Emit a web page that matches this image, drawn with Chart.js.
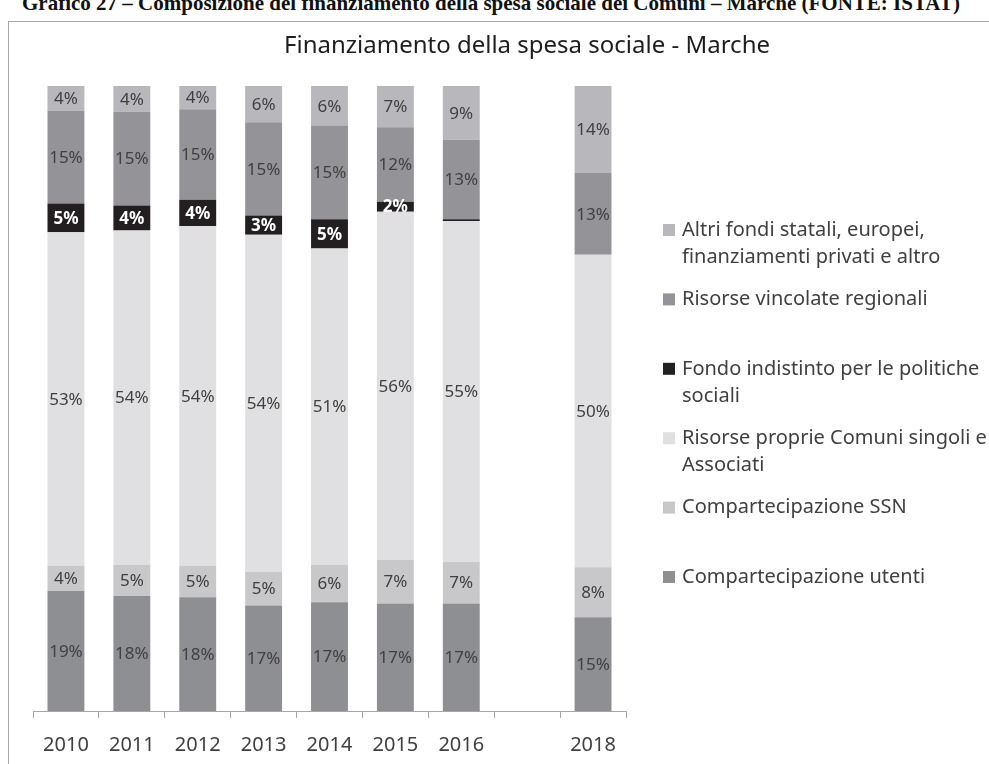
<!DOCTYPE html>
<html>
<head>
<meta charset="utf-8">
<script src="https://cdn.jsdelivr.net/npm/chart.js@4.4.1/dist/chart.umd.min.js"></script>
<style>
  html, body { margin: 0; padding: 0; background: #fff; }
  #wrap { position: relative; width: 989px; height: 764px; overflow: hidden; }
  #caption {
    position: absolute; left: 22px; top: -9px; white-space: nowrap;
    font: bold 21px "Liberation Serif", serif; color: #111;
  }
  #frame {
    position: absolute; left: 8px; top: 21px; width: 1000px; height: 800px;
    border: 1px solid #a8a8a8; box-sizing: border-box;
  }
  #chartFinanz { position: absolute; left: 0; top: 0; }
</style>
</head>
<body>
<div id="wrap">
  <div id="caption">Grafico 27 – Composizione del finanziamento della spesa sociale dei Comuni – Marche (FONTE: ISTAT)</div>
  <div id="frame"></div>
  <canvas id="chartFinanz" width="989" height="772"></canvas>
</div>
<script>
// anni (il 2017 manca, colonna vuota)
const anni = ['2010', '2011', '2012', '2013', '2014', '2015', '2016', '', '2018'];

// quote in %
const utenti = [19.2, 18.4, 18.2, 16.9, 17.4, 17.2, 17.2, null, 15.0];
const ssn = [4.0, 5.0, 5.0, 5.4, 6.0, 7.0, 6.7, null, 8.0];
const risorseProprie = [53.4, 53.5, 54.4, 53.9, 50.6, 55.7, 54.5, null, 50.0];
const fondoIndistinto = [4.6, 4.0, 4.2, 3.1, 4.7, 1.6, 0.3, null, 0];
const vincolateRegionali = [14.8, 15.0, 14.5, 14.9, 15.0, 11.9, 12.7, null, 13.1];
const altriFondi = [4.0, 4.1, 3.7, 5.8, 6.3, 6.6, 8.6, null, 13.9];

const testo = '#404040';

// etichette % al centro di ogni segmento
const etichette = {
  id: 'etichette',
  afterDatasetsDraw(chart) {
    const ctx = chart.ctx;
    ctx.save();
    ctx.textAlign = 'center';
    ctx.textBaseline = 'middle';
    chart.data.datasets.forEach((ds, i) => {
      const meta = chart.getDatasetMeta(i);
      meta.data.forEach((bar, j) => {
        const v = ds.data[j];
        if (v == null || v < 1) return;
        const y = (bar.y + bar.base) / 2;
        if (ds.scuro) {
          ctx.font = 'bold 17px "Noto Sans"';
          ctx.fillStyle = '#ffffff';
        } else {
          ctx.font = '17px "Noto Sans"';
          ctx.fillStyle = testo;
        }
        ctx.fillText(Math.round(v) + '%', bar.x, y + 1);
      });
    });
    ctx.restore();
  }
};

// titolo e legenda a destra, come in Excel
const legenda = {
  id: 'legenda',
  afterDraw(chart) {
    const ctx = chart.ctx;
    ctx.save();
    ctx.textBaseline = 'middle';
    ctx.textAlign = 'center';
    ctx.fillStyle = '#1e1e1e';
    ctx.font = '24px "Noto Sans"';
    ctx.fillText('Finanziamento della spesa sociale - Marche', 527, 46);

    ctx.textAlign = 'left';
    ctx.font = '20px "Noto Sans"';
    const sets = chart.data.datasets.slice().reverse();
    sets.forEach((ds, i) => {
      const y = 230 + i * 69.4;
      ctx.fillStyle = ds.backgroundColor;
      ctx.fillRect(663, y - 6, 12, 12);
      ctx.fillStyle = testo;
      ds.label.split('\n').forEach((riga, k) => {
        ctx.fillText(riga, 682, y + k * 27);
      });
    });
    ctx.restore();
  }
};

const chart1 = document.getElementById('chartFinanz').getContext('2d');
const chartFinanz = new Chart(chart1, {
  type: 'bar',
  data: {
    labels: anni,
    datasets: [
      { label: 'Compartecipazione utenti', data: utenti, backgroundColor: '#8e8f92' },
      { label: 'Compartecipazione SSN', data: ssn, backgroundColor: '#c8c8ca' },
      { label: 'Risorse proprie Comuni singoli e\nAssociati', data: risorseProprie, backgroundColor: '#e0e0e2' },
      { label: 'Fondo indistinto per le politiche\nsociali', data: fondoIndistinto, backgroundColor: '#231f20', scuro: true },
      { label: 'Risorse vincolate regionali', data: vincolateRegionali, backgroundColor: '#949498' },
      { label: 'Altri fondi statali, europei,\nfinanziamenti privati e altro', data: altriFondi, backgroundColor: '#b8b8bc' }
    ]
  },
  options: {
    responsive: false,
    animation: false,
    layout: {
      padding: { left: 33, right: 363, top: 86, bottom: 0 }
    },
    datasets: {
      bar: { barPercentage: 0.56, categoryPercentage: 1, borderWidth: 0 }
    },
    scales: {
      x: {
        stacked: true,
        grid: { display: true, drawOnChartArea: false, drawTicks: true, tickLength: 7, color: '#a6a6a6' },
        border: { display: true, color: '#a6a6a6' },
        ticks: { color: testo, padding: 15, font: { family: 'Noto Sans', size: 20 } }
      },
      y: {
        stacked: true,
        display: false,
        min: 0,
        max: 100
      }
    },
    plugins: {
      legend: { display: false },
      tooltip: { enabled: false }
    }
  },
  plugins: [etichette, legenda]
});
</script>
</body>
</html>
